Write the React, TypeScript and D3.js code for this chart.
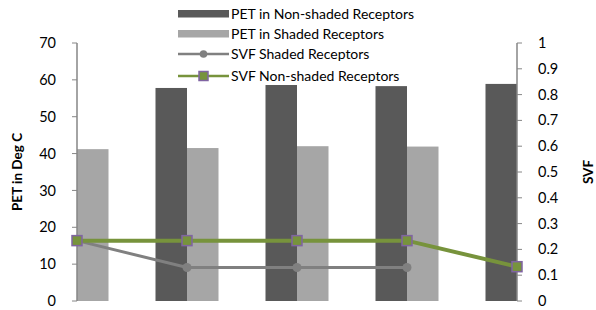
import React from "react";
import * as d3 from "d3";

const categories = ["1", "2", "3", "4", "5"];
const petNonShaded: (number | null)[] = [null, 57.8, 58.6, 58.3, 58.9];
const petShaded: (number | null)[] = [41.2, 41.5, 42.0, 41.9, null];
const svfShaded: (number | null)[] = [0.234, 0.13, 0.13, 0.13, null];
const svfNonShaded: (number | null)[] = [0.234, 0.234, 0.234, 0.234, 0.133];
const leftTicks = [0, 10, 20, 30, 40, 50, 60, 70];
const rightTicks = [0, 0.1, 0.2, 0.3, 0.4, 0.5, 0.6, 0.7, 0.8, 0.9, 1];
const legendLabels = [
  "PET in Non-shaded Receptors",
  "PET in Shaded Receptors",
  "SVF Shaded Receptors",
  "SVF Non-shaded Receptors",
];

const W = 596, H = 310;
const FONT = "Lato, 'Open Sans', sans-serif";
const DARK = "#595959", LIGHT = "#A6A6A6", GRAY = "#808080", GREEN = "#77933C", PURPLE = "#8064A2";

export default function App() {
  const x = d3.scaleLinear().domain([0, categories.length - 1]).range([77, 517]);
  const yL = d3.scaleLinear().domain([0, 70]).range([301, 43]);
  const yR = d3.scaleLinear().domain([0, 1]).range([301, 43]);
  const bw = 31.5;

  const lineGen = d3
    .line<number | null>()
    .defined((d) => d !== null)
    .x((_, i) => x(i))
    .y((d) => yR(d as number));

  return (
    <svg width={W} height={H} style={{ position: "absolute", left: 0, top: 0, background: "#fff" }} fontFamily={FONT}>
      <rect x={0} y={0} width={W} height={H} fill="#fff" />
      {/* bars */}
      {petNonShaded.map((v, i) =>
        v === null ? null : (
          <rect key={"d" + i} x={x(i) - bw} y={yL(v)} width={bw} height={yL(0) - yL(v)} fill={DARK} />
        )
      )}
      {petShaded.map((v, i) =>
        v === null ? null : (
          <rect key={"l" + i} x={x(i)} y={yL(v)} width={bw} height={yL(0) - yL(v)} fill={LIGHT} />
        )
      )}
      {/* axes */}
      <line x1={77} x2={77} y1={43} y2={301} stroke="#868686" strokeWidth={1.5} />
      {leftTicks.map((t) => (
        <g key={"lt" + t}>
          <line x1={72} x2={77} y1={yL(t)} y2={yL(t)} stroke="#868686" strokeWidth={1} />
          <text x={56} y={yL(t)} dy="0.35em" textAnchor="end" fontSize={14.5} fill="#000">
            {t}
          </text>
        </g>
      ))}
      <line x1={517} x2={517} y1={43} y2={301} stroke="#868686" strokeWidth={1.5} />
      {rightTicks.map((t) => (
        <g key={"rt" + t}>
          <line x1={517} x2={522} y1={yR(t)} y2={yR(t)} stroke="#868686" strokeWidth={1} />
          <text x={538} y={yR(t)} dy="0.35em" textAnchor="start" fontSize={14.5} fill="#000">
            {d3.format("~g")(t)}
          </text>
        </g>
      ))}
      <text transform={`translate(22,172) rotate(-90)`} textAnchor="middle" fontSize={13.5} fontWeight="bold">
        PET in Deg C
      </text>
      <text transform={`translate(593,172) rotate(-90)`} textAnchor="middle" fontSize={13.5} fontWeight="bold">
        SVF
      </text>
      {/* lines */}
      <path d={lineGen(svfShaded) || ""} fill="none" stroke={GRAY} strokeWidth={3} />
      {svfShaded.map((v, i) =>
        v === null ? null : <circle key={"c" + i} cx={x(i)} cy={yR(v)} r={4.5} fill={GRAY} />
      )}
      <path d={lineGen(svfNonShaded) || ""} fill="none" stroke={GREEN} strokeWidth={4} />
      {svfNonShaded.map((v, i) =>
        v === null ? null : (
          <rect key={"s" + i} x={x(i) - 5} y={yR(v) - 5} width={10} height={10} fill={GREEN} stroke={PURPLE} strokeWidth={1.5} />
        )
      )}
      {/* legend */}
      <g>
        <rect x={178} y={10} width={51} height={7.5} fill={DARK} />
        <rect x={178} y={30} width={51} height={7.5} fill={LIGHT} />
        <line x1={178} x2={229} y1={54} y2={54} stroke={GRAY} strokeWidth={2.5} />
        <circle cx={203.5} cy={54} r={3.8} fill={GRAY} />
        <line x1={178} x2={229} y1={76} y2={76} stroke={GREEN} strokeWidth={2.5} />
        <rect x={199} y={71.5} width={9} height={9} fill={GREEN} stroke={PURPLE} strokeWidth={1.5} />
        {legendLabels.map((l, i) => (
          <text key={l} x={231} y={[14, 34, 54, 76][i]} dy="0.35em" fontSize={14} fill="#000">
            {l}
          </text>
        ))}
      </g>
    </svg>
  );
}
